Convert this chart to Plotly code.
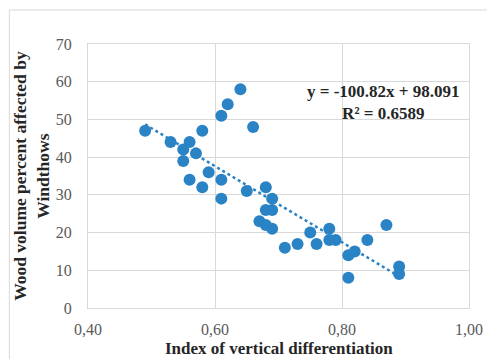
import plotly.graph_objects as go

# Data
index_vd = [0.49, 0.53, 0.55, 0.55, 0.56, 0.56, 0.57, 0.58, 0.58, 0.59,
            0.61, 0.61, 0.61, 0.62, 0.64, 0.66, 0.65, 0.68, 0.69, 0.68,
            0.69, 0.67, 0.68, 0.69, 0.71, 0.73, 0.75, 0.76, 0.78, 0.78,
            0.79, 0.81, 0.82, 0.81, 0.84, 0.87, 0.89, 0.89]
wood_pct = [47, 44, 42, 39, 44, 34, 41, 47, 32, 36,
            34, 29, 51, 54, 58, 48, 31, 32, 29, 26,
            26, 23, 22, 21, 16, 17, 20, 17, 21, 18,
            18, 14, 15, 8, 18, 22, 11, 9]
trend_slope = -100.82
trend_intercept = 98.091
r_squared = 0.6589
x_ticks = [0.40, 0.60, 0.80, 1.00]
y_ticks = [0, 10, 20, 30, 40, 50, 60, 70]

blue = "#2a83c4"
grid = "#d9d9d9"
serif = "Liberation Serif, Times New Roman, serif"

tx = [min(index_vd), max(index_vd)]
ty = [trend_slope * v + trend_intercept for v in tx]

fig = go.Figure()
fig.add_trace(go.Scatter(x=tx, y=ty, mode="lines",
                         line=dict(color=blue, width=2.5, dash="dot"),
                         hoverinfo="skip", showlegend=False))
fig.add_trace(go.Scatter(x=index_vd, y=wood_pct, mode="markers",
                         marker=dict(color=blue, size=12, line=dict(width=0)),
                         showlegend=False))

fig.update_layout(
    width=487, height=351,
    margin=dict(l=80, r=24, t=36, b=51),
    paper_bgcolor="white", plot_bgcolor="white",
    separators=", ",
    font=dict(family=serif, size=16, color="#595959"),
    showlegend=False,
)
fig.update_xaxes(range=[0.4, 1.0], tickvals=x_ticks, tickformat=".2f",
                 showgrid=True, gridcolor=grid, gridwidth=1,
                 showline=True, linecolor=grid, linewidth=1, mirror=True,
                 zeroline=False, ticks="", ticklabelstandoff=7,
                 tickfont=dict(family=serif, size=16, color="#595959"))
fig.update_yaxes(range=[0, 70], tickvals=y_ticks,
                 showgrid=True, gridcolor=grid, gridwidth=1,
                 showline=True, linecolor=grid, linewidth=1, mirror=True,
                 zeroline=False, ticks="", ticklabelstandoff=12,
                 tickfont=dict(family=serif, size=16, color="#595959"))

fig.add_annotation(xref="paper", yref="paper", x=0.5, y=-0.155,
                   text="<b>Index of vertical differentiation</b>", showarrow=False,
                   font=dict(family=serif, size=17, color="#262626"),
                   xanchor="center", yanchor="middle")
fig.add_annotation(xref="paper", yref="paper", x=-0.15, y=0.5,
                   text="<b>Wood volume percent affected by<br>Windthows</b>", showarrow=False,
                   textangle=-90,
                   font=dict(family=serif, size=17.5, color="#262626"),
                   xanchor="center", yanchor="middle")
fig.add_annotation(xref="paper", yref="paper", x=0.775, y=0.78,
                   text=f"<b>y = {trend_slope}x + {trend_intercept}<br>R² = {r_squared}</b>",
                   showarrow=False, align="center",
                   font=dict(family=serif, size=17, color="#262626"),
                   xanchor="center", yanchor="middle")
fig.add_shape(type="rect", xref="paper", yref="paper",
              x0=-0.2063, y0=-0.3, x1=1.2, y1=1.1288,
              line=dict(color=grid, width=1), fillcolor="rgba(0,0,0,0)", layer="below")

fig.write_html("out.html")
